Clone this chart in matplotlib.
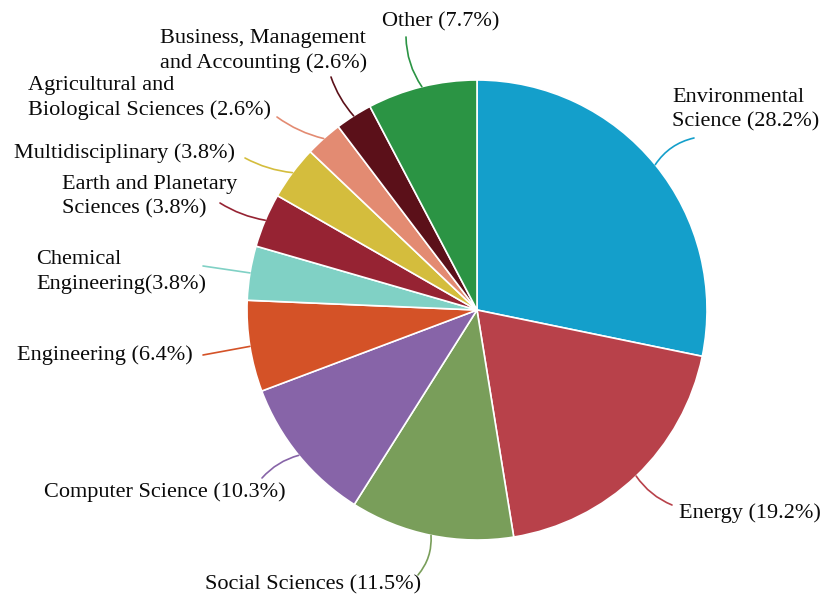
import numpy as np
import matplotlib
matplotlib.use('Agg')
from matplotlib import pyplot as plt

categories = ['Environmental\nScience', 'Energy', 'Social Sciences', 'Computer Science',
              'Engineering', 'Chemical\nEngineering', 'Earth and Planetary\nSciences',
              'Multidisciplinary', 'Agricultural and\nBiological Sciences',
              'Business, Management\nand Accounting', 'Other']
shares = [28.2, 19.2, 11.5, 10.3, 6.4, 3.8, 3.8, 3.8, 2.6, 2.6, 7.7]
colors = ['#149fcb', '#b8414a', '#799e5a', '#8764a8', '#d45227', '#80d1c5',
          '#962333', '#d4bd3d', '#e38b72', '#5b1019', '#2b9444']


def main():
    plt.rcParams['font.family'] = ['Liberation Serif', 'DejaVu Serif']
    H = 602
    fig = plt.figure(figsize=(8.22, 6.02), dpi=100)
    ax = fig.add_axes([0, 0, 1, 1])

    cx, cy, r = 477, H - 310, 230
    wedges, _ = ax.pie(shares, colors=colors, startangle=90, counterclock=False,
                       center=(cx, cy), radius=r, frame=True,
                       wedgeprops=dict(edgecolor='white', linewidth=1.2))
    ax.set_xlim(0, 822)
    ax.set_ylim(0, H)
    ax.set_aspect('auto')
    ax.axis('off')

    # label layout: (text x, text y, ha, leader end x, leader end y, curvature), pixels from top-left
    layout = [
        (672, 110, 'left', 694, 138, -0.2),
        (679, 513, 'left', 672, 505, 0.15),
        (313, 585, 'center', 418, 575, -0.2),
        (165, 492, 'center', 262, 478, 0.15),
        (17, 355, 'left', 203, 355, 0.0),
        (36, 272, 'left', 203, 266, 0.0),
        (62, 197, 'left', 220, 203, -0.1),
        (14, 153, 'left', 245, 158, -0.1),
        (28, 98, 'left', 277, 117, -0.1),
        (160, 51, 'left', 331, 77, -0.1),
        (382, 22, 'left', 406, 37, -0.15),
    ]
    labels = ['%s (%.1f%%)' % (c, s) if c != 'Chemical\nEngineering' else '%s(%.1f%%)' % (c, s)
              for c, s in zip(categories, shares)]

    for w, lab, (tx, ty, ha, ex, ey, rad) in zip(wedges, labels, layout):
        ang = np.deg2rad((w.theta1 + w.theta2) / 2)
        px = cx + r * np.cos(ang)
        py = cy + r * np.sin(ang)
        ax.annotate('', xy=(ex, H - ey), xytext=(px, py),
                    arrowprops=dict(arrowstyle='-', color=w.get_facecolor(), lw=1.2,
                                    shrinkA=0, shrinkB=0,
                                    connectionstyle='arc3,rad=%s' % rad))
        ax.text(tx, H - ty, lab, ha=ha, va='center', fontsize=16, color='#0a0a0a',
                linespacing=1.4, multialignment='left')

    fig.savefig('out.png', dpi=100)


if __name__ == '__main__':
    main()
